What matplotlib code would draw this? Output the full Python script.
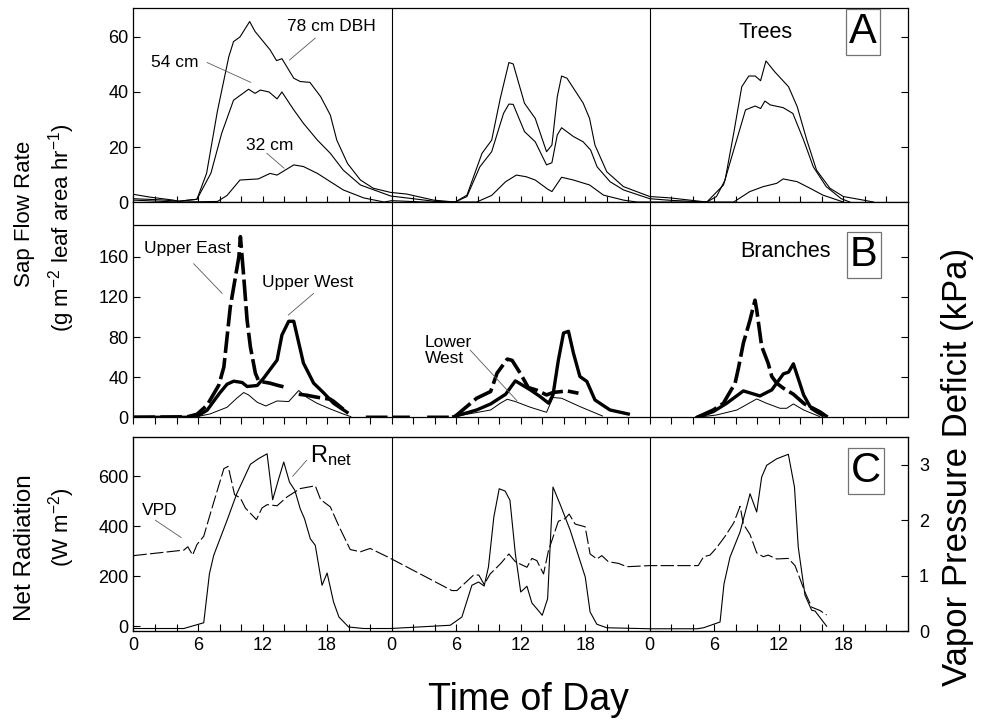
import numpy as np
import matplotlib
matplotlib.use('Agg')
import matplotlib.pyplot as plt

plt.rcParams['font.family'] = ['Liberation Sans', 'DejaVu Sans']
plt.rcParams['mathtext.fontset'] = 'custom'
plt.rcParams['mathtext.rm'] = 'Liberation Sans'
plt.rcParams['mathtext.it'] = 'Liberation Sans:italic'

nan = np.nan

# ---- Panel A: tree sap flow (g m-2 leaf area hr-1), hours since start ----
hr_78 = [0, 1.5, 3.7, 4.2, 5.9, 6.8, 7.8, 8.86, 9.3, 9.9, 10.8, 11.3, 12.7, 13.3, 13.8, 14.9, 15.5, 16.4,
         17.4, 18.3, 18.9, 19.9, 21.1, 22.3, 23.9,
         25.4, 27.9, 29.9, 31.0, 32.4, 33.3, 34.1, 34.9, 35.3, 36.35, 37.35, 38.4, 38.9, 39.4, 39.8, 40.3,
         41.8, 42.4, 42.9, 44.0, 45.55, 48.0,
         49.9, 51.7, 53.3, 54.2, 55.0, 55.8, 56.55, 57.2, 57.8, 58.3, 58.8, 59.6, 60.9, 61.7, 62.6, 63.5,
         64.75, 66.0, 67.85, 68.8]
sap_78 = [2.8, 1.8, 0.7, 0.3, 1, 10.5, 33, 52.8, 58.3, 60, 65.6, 62, 55.3, 51.4, 52.1, 45, 43.8, 43.5,
          38.3, 31.6, 22.5, 14, 8, 5, 3.5,
          2.9, 0.7, 0, 2.5, 17.7, 22.5, 37.7, 50.7, 50.2, 35.9, 30.4, 18.3, 20.7, 38.3, 45.8, 45,
          36, 30.4, 20.7, 11, 5.6, 2,
          1.5, 0.7, 0, 2, 8, 25, 41.9, 45.8, 45.8, 44.1, 51.3, 47.4, 41.9, 34.7, 22.5, 11.6,
          5, 2, 0.7, 0]

hr_54 = [0, 2.5, 4.2, 5.9, 7.2, 8.2, 9.3, 10.7, 11.3, 11.8, 12.6, 13.35, 13.8, 14.9, 15.8, 17.1, 18.3,
         19.5, 21.1, 23.9,
         27.9, 29.9, 31.0, 32.2, 33.3, 34.4, 34.9, 35.3, 36.35, 37.35, 38.4, 38.9, 39.4, 39.8, 40.9, 41.8,
         42.5, 43.1, 44.3, 45.55, 48.0,
         50.0, 53.3, 54.85, 55.8, 56.9, 57.8, 58.3, 58.7, 59.2, 60.4, 61.3, 62.3, 63.2, 64.4, 65.8, 66.6]
sap_54 = [1.2, 0.8, 0.3, 1, 10.5, 25, 37, 41, 39.5, 40.7, 40, 37.5, 40, 33.5, 28.6, 22.5, 17.7,
          11.6, 6.2, 2.2,
          0.3, 0, 2, 12.8, 18.3, 32.2, 35.6, 35.5, 25.6, 21.9, 13.5, 14.3, 24.4, 27, 23.8, 21.9,
          18.9, 12.8, 7.4, 4.4, 1.2,
          0.6, 0, 6.2, 18.9, 33.5, 34.9, 34, 36.7, 35.3, 34.3, 32.2, 22.5, 12.8, 5.6, 1.2, 0]

hr_32 = [0, 4, 7.8, 8.7, 9.9, 11.6, 12.7, 13.35, 14.9, 15.8, 17.1, 18.3, 19.5, 21.4, 23.3, 24, 27,
         31.9, 33.3, 34.6, 35.6, 36.5, 37.35, 38.5, 38.9, 39.8, 40.9, 42.4, 43.7, 45.55, 46.8,
         55.8, 57.3, 58.55, 59.8, 60.4, 61.7, 62.9, 64.1, 66]
sap_32 = [0.7, 0, 0.2, 2.4, 8, 8.4, 10.4, 9.8, 13.5, 12.9, 10.4, 7.4, 4.4, 1.5, 0, 0.5, 0,
          0, 2.4, 7.4, 9.8, 9.2, 8, 4.7, 3.8, 9, 8, 6.2, 2.5, 0.7, 0,
          0, 3.8, 5.6, 6.8, 8.4, 7.4, 5, 2.5, 0]

# ---- Panel B: branch sap flow ----
hr_ue = [0, 5, 5.9, 6.84, 7.93, 8.4, 9.0, 9.8, 9.94, 10.25, 10.56, 10.87, 11.33, 11.64, 12.7, 13.35, 14.1,
         14.7, 15.36, 16.1, 17.06, 18.3, 18.6, 19.85, 20.5, 21.6, 25.7, 26.5, 27.3, 29.8,
         31.9, 33.2, 33.8, 34.75, 35.2, 35.95, 36.7, 37.5, 38.4, 39.0, 40.3, 41.37, 45,
         52.4, 53.9, 54.84, 55.93, 56.24, 56.7, 57.32, 57.78, 57.94, 58.4, 59.0, 59.34, 59.8, 60.42,
         61.35, 62.3, 63.5, 64.2]
sap_ue = [0, 0.5, 3, 12, 32, 50, 110, 160, 180, 140, 97, 70, 44, 36, 34, 32, 30,
          nan, 23, 22, 20, 18, 16, 5, nan, 0, 0, nan, 0, 0,
          19, 25.7, 44, 58, 56.7, 44, 29.7, 27, 22.3, 24.7, 26.3, 24, nan,
          0, 7.3, 14, 34, 49, 74, 97, 116.7, 107, 70.7, 54, 40.7, 34, 29,
          23, 14, 5.7, 1.3]

hr_uw = [0, 5.5, 5.9, 6.84, 8.0, 8.7, 9.32, 10.1, 10.56, 11.5, 12.1, 13.35, 13.8, 14.43, 14.9, 15.8, 16.75,
         17.65, 18.6, 19.85, 25,
         29.78, 31.9, 33.2, 34.6, 35.5, 36.9, 37.8, 38.6, 39.0, 39.5, 39.98, 40.44, 40.9, 41.5, 42.15,
         42.9, 44.3, 46.0, 48,
         52.4, 53.9, 55.15, 56.7, 58.24, 59.34, 60.42, 60.9, 61.35, 62.3, 62.9, 63.8, 64.4]
sap_uw = [0, 0, 1, 7, 24, 33, 36, 34.7, 30.7, 31.7, 39, 57, 82, 95.7, 95.7, 54, 34,
          24.7, 14, 5, nan,
          0.7, 7.3, 13.3, 23, 36.3, 27.3, 20.7, 14, 22.3, 57, 84, 85.7, 64, 40.7, 35.7,
          17.3, 7.3, 3.3, nan,
          0, 5.7, 14, 26.3, 21.3, 27.3, 43.3, 45, 53.3, 22.3, 10.7, 5.7, 1.3]

hr_lw = [0, 5.9, 7.1, 8.7, 9.6, 10.25, 10.7, 11.5, 12.3, 13.35, 14.43, 15.36, 16.1, 17.06, 18.3, 19.5, 20.2,
         25,
         29.8, 33.2, 34.1, 34.75, 35.5, 36.9, 38.4, 39.0, 39.8, 41.5, 43.6, 48,
         52.4, 54.2, 56.1, 57.94, 58.85, 60.1, 60.73, 61.35, 62.3, 63.8]
sap_lw = [0, 0.7, 3.3, 10, 19, 24.7, 22.3, 15, 11.3, 16.3, 15.7, 26.7, 20, 14, 8.3, 3.3, 0.7,
          nan,
          0.7, 7.3, 14, 18, 15.7, 10, 5, 19.7, 19, 10.7, 1.3, nan,
          0, 2.3, 7.3, 18.3, 14, 9, 9, 13.3, 7.3, 0.7]

# ---- Panel C: net radiation (W m-2) and VPD (kPa) ----
hr_rn = [0, 4.68, 6.53, 7.06, 7.46, 8.7, 9.6, 10.87, 11.6, 12.42, 12.94, 13.5, 13.97, 14.5, 15.0, 15.5,
         15.9, 16.44, 16.9, 17.53, 18.0, 18.6, 19.1, 20.0, 21.4, 23.9,
         29.45, 30.53, 31.46, 32.08, 32.6, 33.0, 33.5, 34.0, 34.55, 35.0, 35.5, 36.0, 36.58, 37.04, 37.5,
         38.0, 38.5, 39.0, 39.7, 40.6, 42.0, 42.45, 43.08, 44.0, 48.0,
         52.4, 53.0, 54.53, 54.9, 55.46, 56.39, 57.32, 57.94, 58.4, 58.87, 59.8, 60.88, 61.45, 61.8,
         62.43, 63.05, 63.36, 64.44]
rnet = [-10, -10, 13, 209, 283, 423, 529, 647, 669, 689, 505, 589, 656, 576, 543, 469,
        429, 349, 323, 163, 212, 96, 36, -4, -10, -10,
        3, 36, 163, 176, 160, 236, 436, 549, 540, 503, 289, 136, 159, 92, 69,
        43, 109, 556, 483, 383, 196, 56, 7, -7, -11,
        -11, -7, 16, 169, 276, 376, 529, 456, 596, 643, 669, 687, 556, 316,
        123, 63, 60, -1]

hr_vpd = [0, 4.68, 5.05, 5.5, 5.9, 6.53, 7.3, 8.0, 8.4, 8.8, 9.4, 9.94, 10.4, 11.43, 11.95, 12.42, 13.35,
          14.28, 15.5, 16.9, 17.4, 18.3, 19.1, 20.15, 21.1, 22.0, 23.7,
          29.6, 30.07, 31.62, 32.1, 32.6, 33.16, 34.1, 34.9, 35.5, 36.58, 37.04, 37.5, 38.12, 38.58, 39.5,
          40.14, 40.5, 41.06, 41.99, 42.45, 43.08, 43.54, 44.15, 45.1, 45.86, 48.0,
          52.5, 53.0, 53.6, 54.2, 55.0, 55.8, 56.39, 56.7, 57.32, 57.94, 58.55, 59.0, 59.8, 60.88, 61.5,
          62.43, 63.05, 63.82, 64.44]
vpd = [1.36, 1.46, 1.52, 1.37, 1.56, 1.71, 2.22, 2.67, 2.93, 2.97, 2.46, 2.4, 2.22, 2.01, 2.22, 2.28, 2.26,
       2.42, 2.57, 2.62, 2.37, 2.24, 1.89, 1.47, 1.43, 1.49, 1.33,
       0.73, 0.73, 1.01, 1.01, 0.84, 1.03, 1.21, 1.39, 1.25, 1.15, 1.31, 1.27, 1.03, 1.45, 1.98,
       2.03, 2.11, 1.93, 1.88, 1.39, 1.3, 1.36, 1.25, 1.22, 1.16, 1.18,
       1.18, 1.34, 1.37, 1.5, 1.71, 1.95, 2.25, 1.93, 1.74, 1.41, 1.34, 1.37, 1.3, 1.31, 1.18,
       0.7, 0.43, 0.37, 0.29]

tick_hours = list(range(0, 72, 2))
tick_text = [str(h % 24) if h % 6 == 0 else '' for h in tick_hours]

fig = plt.figure(figsize=(9.91, 7.2), dpi=100)
L, W = 0.1347, 0.7815
axA = fig.add_axes([L, 0.7194, W, 0.2694])
axB = fig.add_axes([L, 0.4204, W, 0.2990])
axC = fig.add_axes([L, 0.1236, W, 0.2694])

for ax in (axA, axB, axC):
    ax.set_xlim(0, 72)
    ax.set_xticks(tick_hours)
    for d in (24, 48):
        ax.axvline(d, color='black', lw=0.8, zorder=1)
    for s in ax.spines.values():
        s.set_linewidth(0.9)
    ax.tick_params(axis='y', direction='in', length=5, labelsize=13, right=True, labelright=False)

# --- A ---
axA.plot(hr_78, sap_78, color='black', lw=0.8)
axA.plot(hr_54, sap_54, color='black', lw=0.8)
axA.plot(hr_32, sap_32, color='black', lw=0.8)
axA.set_ylim(0, 70.5)
axA.set_yticks([0, 20, 40, 60])
axA.tick_params(axis='x', direction='inout', length=8, labelbottom=False)
lead = dict(color='0.35', lw=0.6)
axA.text(18.4, 63.8, '78 cm DBH', fontsize=12.5, ha='center', va='center')
axA.plot([16.9, 14.5], [59.6, 51.6], **lead)
axA.text(3.86, 50.7, '54 cm', fontsize=12.5, ha='center', va='center')
axA.plot([6.85, 10.9], [50.7, 43.5], **lead)
axA.text(12.7, 20.4, '32 cm', fontsize=12.5, ha='center', va='center')
axA.plot([12.4, 14.0], [17.7, 12.3], **lead)
axA.text(58.8, 61.8, 'Trees', fontsize=15.5, ha='center', va='center')
axA.text(67.8, 61.8, 'A', fontsize=30, ha='center', va='center',
         bbox=dict(boxstyle='square,pad=0.08', fc='white', ec='0.45', lw=0.9))

# --- B ---
axB.plot(hr_ue, sap_ue, color='black', lw=2.6, dashes=(6, 1.4))
axB.plot(hr_uw, sap_uw, color='black', lw=2.4)
axB.plot(hr_lw, sap_lw, color='black', lw=0.7)
axB.set_ylim(0, 214.5)
axB.axhline(191.5, color='black', lw=0.9)
axB.set_yticks([0, 40, 80, 120, 160])
axB.tick_params(axis='x', direction='out', length=5, labelbottom=False)
axB.text(5.0, 168, 'Upper East', fontsize=12.5, ha='center', va='center')
axB.plot([5.6, 8.24], [153, 123.5], **lead)
axB.text(16.2, 134.8, 'Upper West', fontsize=12.5, ha='center', va='center')
axB.plot([16.75, 14.4], [123.5, 102], **lead)
axB.text(27.1, 82, 'Lower\nWest', fontsize=12.5, ha='left', va='top', linespacing=1.05)
axB.plot([31.3, 35.65], [67, 16.5], **lead)
axB.text(60.6, 165.7, 'Branches', fontsize=15.5, ha='center', va='center')
axB.text(67.9, 161.6, 'B', fontsize=30, ha='center', va='center',
         bbox=dict(boxstyle='square,pad=0.08', fc='white', ec='0.45', lw=0.9))

# --- C ---
axC.plot(hr_rn, rnet, color='black', lw=0.8)
axC.set_ylim(-20, 756)
axC.set_yticks([0, 200, 400, 600])
axC.tick_params(axis='y', right=False)
axC.tick_params(axis='x', direction='in', length=5, labelsize=13, pad=4)
axC.set_xticklabels(tick_text)
axV = axC.twinx()
axV.plot(hr_vpd, vpd, color='black', lw=0.8, dashes=(12, 3))
axV.set_ylim(0.0, 3.5)
axV.set_yticks([0, 1, 2, 3])
axV.tick_params(axis='y', direction='in', length=5, labelsize=13, pad=8)
axC.text(2.4, 463, 'VPD', fontsize=12.5, ha='center', va='center')
axC.plot([2.04, 4.43], [423, 354], **lead)
axC.text(16.4, 683, r'R$_{\mathrm{net}}$', fontsize=17, ha='left', va='center')
axC.plot([16.1, 14.8], [663, 599], **lead)
axC.text(68.1, 620, 'C', fontsize=30, ha='center', va='center',
         bbox=dict(boxstyle='square,pad=0.08', fc='white', ec='0.45', lw=0.9))

# axis titles
fig.text(25 / 991, 1 - 214 / 720, 'Sap Flow Rate', rotation=90, fontsize=16, ha='center', va='center')
fig.text(62 / 991, 1 - 228 / 720, r'(g m$^{-2}$ leaf area hr$^{-1}$)', rotation=90, fontsize=16,
         ha='center', va='center')
fig.text(25 / 991, 1 - 548 / 720, 'Net Radiation', rotation=90, fontsize=17.5, ha='center', va='center')
fig.text(62 / 991, 1 - 527 / 720, r'(W m$^{-2}$)', rotation=90, fontsize=16, ha='center', va='center')
fig.text(958 / 991, 1 - 467 / 720, 'Vapor Pressure Deficit (kPa)', rotation=90, fontsize=25,
         ha='center', va='center')
fig.text(528 / 991, 1 - 700 / 720, 'Time of Day', fontsize=27, ha='center', va='center')

fig.savefig('out.png', dpi=100)
